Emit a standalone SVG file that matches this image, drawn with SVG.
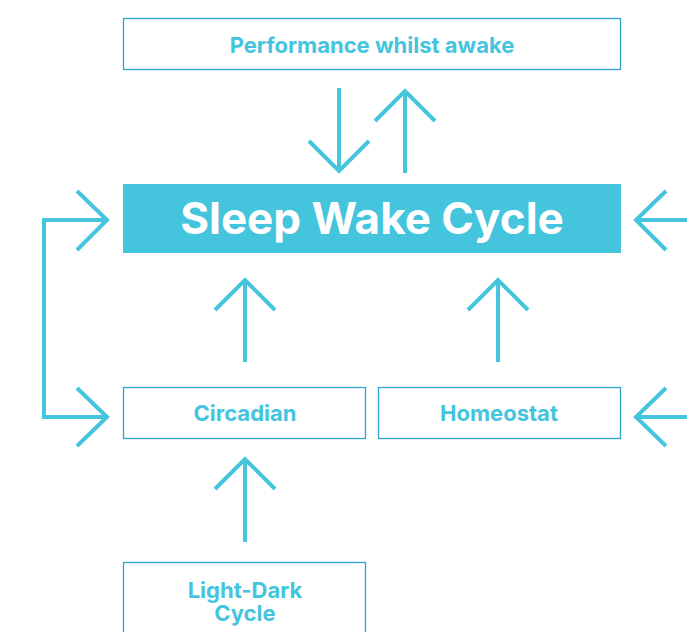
<svg xmlns="http://www.w3.org/2000/svg" width="687" height="632" viewBox="0 0 687 632">
<style>
.box{fill:#fff;stroke:#2fa6cf;stroke-width:1.3}
.lbl{font-family:Inter,"Open Sans",sans-serif;font-weight:700;font-size:22px;fill:#45c4de;text-anchor:middle}
.title{font-family:Inter,"Open Sans",sans-serif;font-weight:700;font-size:44px;fill:#fff;text-anchor:middle}
.c{fill:none;stroke:#45c4de;stroke-width:4;stroke-linecap:butt;stroke-linejoin:miter}
</style>
<rect width="687" height="632" fill="#fff"/>
<g id="performance">
<rect class="box" x="123.5" y="18.5" width="497" height="51"/>
<text class="lbl" x="372" y="53">Performance whilst awake</text>
</g>
<g id="sleepwake">
<rect x="123" y="184" width="498" height="69" fill="#45c4de"/>
<text class="title" x="372" y="234">Sleep Wake Cycle</text>
</g>
<g id="circadian">
<rect class="box" x="123.5" y="387.5" width="242" height="51"/>
<text class="lbl" x="245" y="421">Circadian</text>
</g>
<g id="homeostat">
<rect class="box" x="378.5" y="387.5" width="242" height="51"/>
<text class="lbl" x="499" y="421">Homeostat</text>
</g>
<g id="lightdark">
<rect class="box" x="123.5" y="562.5" width="242" height="80"/>
<text class="lbl" x="245" y="598">Light-Dark</text>
<text class="lbl" x="245" y="621">Cycle</text>
</g>
<g id="connectors">
<path class="c" d="M339 88V170M309 141L339 171L369 141"/>
<path class="c" d="M405 173V91M375 121L405 91L435 121"/>
<path class="c" d="M245 362V280M215 310L245 280L275 310"/>
<path class="c" d="M498 362V280M468 310L498 280L528 310"/>
<path class="c" d="M245 542V459M215 489L245 459L275 489"/>
<path class="c" d="M107 220H44V417H107M77 191L107 220L77 250M77 388L107 417L77 446"/>
<path class="c" d="M687 220H636M666 191L636 220L666 250"/>
<path class="c" d="M687 417H636M666 388L636 417L666 446"/>
</g>
</svg>
